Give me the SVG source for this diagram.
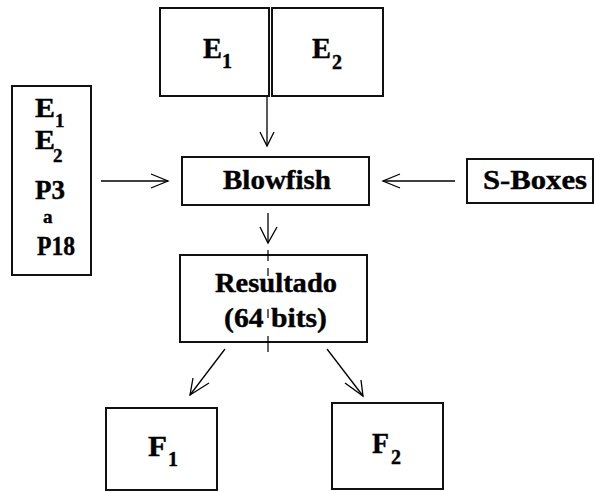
<svg xmlns="http://www.w3.org/2000/svg" width="596" height="493" viewBox="0 0 596 493">
  <style>
    .box { fill: #fff; stroke: #111; stroke-width: 2; }
    .lbl { font-family: "Liberation Serif", "Times New Roman", serif; font-weight: bold; fill: #000; stroke: #000; stroke-width: 0.4; }
    .big { font-size: 29px; }
    .mid { font-size: 27px; }
    .sub { font-size: 20px; }
    .subs { font-size: 19px; }
    .small { font-size: 19px; }
    .conn line, .conn path { stroke: #000; stroke-width: 1.3; fill: none; }
  </style>
  <rect width="596" height="493" fill="#fff"/>

  <!-- connectors -->
  <g id="connectors" class="conn">
    <!-- E1|E2 -> Blowfish -->
    <line x1="267" y1="97" x2="267" y2="146"/>
    <path d="M260,132 L267,146 L274,132"/>
    <!-- key schedule -> Blowfish -->
    <line x1="101" y1="181" x2="168" y2="181"/>
    <path d="M151,174 L168,181 L151,188"/>
    <!-- S-Boxes -> Blowfish -->
    <line x1="455" y1="181" x2="383" y2="181"/>
    <path d="M400,174 L383,181 L400,188"/>
    <!-- Blowfish -> Resultado -->
    <line x1="268" y1="213" x2="268" y2="243"/>
    <path d="M260,227 L268,243 L277,227"/>
    <!-- Resultado -> F1 -->
    <line x1="225" y1="349" x2="190" y2="395"/>
    <path d="M193,378 L190,395 L209,383"/>
    <!-- Resultado -> F2 -->
    <line x1="327" y1="349" x2="363" y2="396"/>
    <path d="M361,380 L363,396 L345,383"/>
  </g>

  <g id="node-e1">
    <rect class="box" x="160" y="8" width="109" height="88"/>
    <text class="lbl big" x="203" y="58" textLength="19" lengthAdjust="spacingAndGlyphs">E</text>
    <text class="lbl sub" x="222" y="68">1</text>
  </g>
  <g id="node-e2">
    <rect class="box" x="272" y="8" width="111" height="88"/>
    <text class="lbl big" x="312" y="58" textLength="19" lengthAdjust="spacingAndGlyphs">E</text>
    <text class="lbl sub" x="332" y="69">2</text>
  </g>

  <g id="node-keys">
    <rect class="box" x="12" y="86" width="79" height="189"/>
    <text class="lbl mid" x="35" y="117" textLength="20" lengthAdjust="spacingAndGlyphs">E</text>
    <text class="lbl subs" x="55" y="127">1</text>
    <text class="lbl mid" x="35" y="149" textLength="20" lengthAdjust="spacingAndGlyphs">E</text>
    <text class="lbl subs" x="53" y="162">2</text>
    <text class="lbl mid" x="35" y="199" textLength="30" lengthAdjust="spacingAndGlyphs">P3</text>
    <text class="lbl small" x="43" y="223">a</text>
    <text class="lbl mid" x="37" y="255" textLength="38" lengthAdjust="spacingAndGlyphs">P18</text>
  </g>

  <g id="node-blowfish">
    <rect class="box" x="182" y="157" width="187" height="48"/>
    <text class="lbl mid" x="223" y="189" textLength="108" lengthAdjust="spacingAndGlyphs">Blowfish</text>
  </g>

  <g id="node-sboxes">
    <rect class="box" x="467" y="159" width="126" height="44"/>
    <text class="lbl mid" x="483" y="189" textLength="104" lengthAdjust="spacingAndGlyphs">S-Boxes</text>
  </g>

  <g id="node-resultado">
    <rect class="box" x="180" y="255" width="187" height="87"/>
    <text class="lbl mid" x="215" y="292" textLength="122" lengthAdjust="spacingAndGlyphs">Resultado</text>
    <text class="lbl mid" x="224" y="327" textLength="103" lengthAdjust="spacingAndGlyphs">(64 bits)</text>
    <!-- centre guide marks -->
    <g stroke="#000" stroke-width="1.2">
      <line x1="268" y1="250" x2="268" y2="261"/>
      <line x1="268" y1="268" x2="268" y2="276"/>
      <line x1="268" y1="309" x2="268" y2="318"/>
      <line x1="268" y1="336" x2="268" y2="352"/>
    </g>
  </g>

  <g id="node-f1">
    <rect class="box" x="106" y="408" width="111" height="82"/>
    <text class="lbl big" x="148" y="456" textLength="19" lengthAdjust="spacingAndGlyphs">F</text>
    <text class="lbl sub" x="168" y="466">1</text>
  </g>
  <g id="node-f2">
    <rect class="box" x="332" y="403" width="111" height="86"/>
    <text class="lbl big" x="372" y="453" textLength="17" lengthAdjust="spacingAndGlyphs">F</text>
    <text class="lbl sub" x="391" y="464">2</text>
  </g>
</svg>
